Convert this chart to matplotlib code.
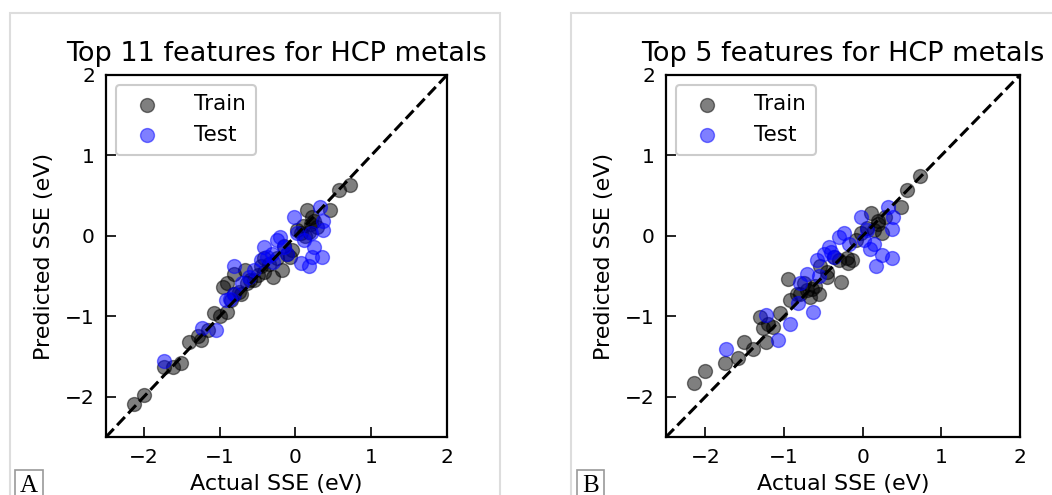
import numpy as np
import matplotlib
matplotlib.use("Agg")
import matplotlib.pyplot as plt
from matplotlib.patches import Rectangle

# Panel A: top 11 features
train_a_x = [-2.13, -2.00, -1.73, -1.62, -1.51, -1.40, -1.29, -1.25, -1.16, -1.07,
             -0.99, -0.90, -0.96, -0.90, -0.81, -0.72, -0.66, -0.55, -0.46, -0.42,
             -0.29, -0.18, -0.11, -0.04, 0.02, 0.07, 0.15, 0.22, 0.29, 0.46,
             0.57, 0.72, -0.07, -0.81, -0.64, -0.42, -0.60, -0.50, -0.35, -0.25,
             -0.15, 0.10, 0.18, 0.20, 0.25, -0.75, -0.85, 0.12]
train_a_y = [-2.09, -1.98, -1.63, -1.63, -1.58, -1.32, -1.25, -1.30, -1.17, -0.96,
             -1.00, -0.94, -0.63, -0.59, -0.72, -0.72, -0.43, -0.55, -0.38, -0.28,
             -0.51, -0.43, -0.22, -0.18, 0.07, 0.03, 0.32, 0.24, 0.11, 0.32,
             0.57, 0.63, -0.26, -0.47, -0.59, -0.45, -0.55, -0.48, -0.35, -0.28,
             -0.12, 0.12, 0.05, 0.15, 0.18, -0.70, -0.80, 0.00]
test_a_x = [-1.73, -1.23, -1.05, -0.92, -0.86, -0.81, -0.81, -0.70, -0.61, -0.55,
            -0.42, -0.37, -0.31, -0.24, -0.20, -0.15, -0.11, -0.02, 0.02, 0.11,
            0.20, 0.18, 0.24, 0.22, 0.35, 0.33, 0.37, 0.37, 0.07, -0.45, -0.30]
test_a_y = [-1.56, -1.15, -1.17, -0.80, -0.78, -0.72, -0.38, -0.59, -0.51, -0.43,
            -0.14, -0.26, -0.22, -0.05, -0.01, -0.14, -0.22, 0.24, 0.03, -0.05,
            0.03, -0.38, -0.14, -0.26, -0.26, 0.36, 0.19, 0.07, -0.34, -0.30, -0.32]

# Panel B: top 5 features
train_b_x = [-2.15, -2.01, -1.75, -1.59, -1.51, -1.40, -1.31, -1.27, -1.23, -1.14,
             -1.05, -0.95, -0.92, -0.84, -0.71, -0.67, -0.56, -0.54, -0.45, -0.28,
             -0.19, -0.13, -0.09, -0.02, 0.11, 0.19, 0.28, 0.49, 0.56, 0.73,
             0.24, 0.15, -0.37, -0.75, -0.60, -0.45, -0.30, -0.20, 0.05, 0.20,
             -1.20, -0.80, -0.65]
train_b_y = [-1.83, -1.68, -1.58, -1.52, -1.32, -1.40, -1.01, -1.15, -1.32, -1.13,
             -0.96, -0.53, -0.80, -0.72, -0.67, -0.76, -0.72, -0.38, -0.51, -0.57,
             -0.34, -0.30, -0.05, 0.03, 0.28, 0.19, 0.24, 0.36, 0.57, 0.75,
             0.03, 0.07, -0.26, -0.59, -0.62, -0.45, -0.30, -0.28, 0.10, 0.15,
             -1.10, -0.72, -0.66]
test_b_x = [-1.74, -1.23, -1.08, -0.92, -0.82, -0.80, -0.71, -0.63, -0.58, -0.49,
            -0.43, -0.37, -0.30, -0.24, -0.17, -0.02, 0.02, 0.09, 0.15, 0.17,
            0.24, 0.37, 0.32, 0.39, 0.37, 0.06, -0.55, -0.40]
test_b_y = [-1.40, -0.98, -1.30, -1.09, -0.84, -0.59, -0.47, -0.94, -0.30, -0.22,
            -0.14, -0.26, -0.01, 0.03, -0.10, 0.24, -0.05, -0.16, -0.10, -0.38,
            -0.24, -0.28, 0.36, 0.24, 0.09, 0.07, -0.50, -0.20]

titles = ["Top 11 features for HCP metals", "Top 5 features for HCP metals"]
panel_tags = ["A", "B"]
lims = (-2.5, 2)
ticks = [-2, -1, 0, 1, 2]
tick_labels = ["\u22122", "\u22121", "0", "1", "2"]

W, H = 1052, 495
fig = plt.figure(figsize=(W / 100, H / 100), dpi=100)

# light gray frames around each panel
for x0, w in [(10, 490), (571, 500)]:
    fig.patches.append(Rectangle((x0 / W, -0.1), w / W, 1.1 - 13 / H, transform=fig.transFigure,
                                 fill=False, edgecolor="#dddddd", lw=1.5))

axes_pos = [[106 / W, 58 / H, 341 / W, 362 / H],
            [666 / W, 58 / H, 354 / W, 362 / H]]
data = [(train_a_x, train_a_y, test_a_x, test_a_y),
        (train_b_x, train_b_y, test_b_x, test_b_y)]
tag_x = [20, 582]

for i in range(2):
    ax = fig.add_axes(axes_pos[i])
    trx, tr_y, tex, tey = data[i]
    ax.scatter(trx, tr_y, s=100, c="k", alpha=0.5, edgecolors="k", linewidths=1, label="Train", zorder=2)
    ax.scatter(tex, tey, s=100, c="b", alpha=0.5, edgecolors="b", linewidths=1, label="Test", zorder=3)
    ax.plot(lims, lims, "k--", lw=2.2, zorder=4)
    ax.set_xlim(lims)
    ax.set_ylim(lims)
    ax.set_xticks(ticks)
    ax.set_yticks(ticks)
    ax.set_xticklabels(tick_labels)
    ax.set_yticklabels(tick_labels)
    ax.tick_params(direction="in", length=7, width=1.2, labelsize=14.5, pad=8)
    for sp in ax.spines.values():
        sp.set_linewidth(1.6)
    ax.set_title(titles[i], fontsize=19.5, pad=10)
    ax.set_xlabel("Actual SSE (eV)", fontsize=16, labelpad=5)
    ax.set_ylabel("Predicted SSE (eV)", fontsize=16, labelpad=8)
    leg = ax.legend(loc="upper left", fontsize=15.5, handletextpad=1.2, scatterpoints=1,
                    borderpad=0.45, fancybox=True, framealpha=1, borderaxespad=0.45)
    leg.get_frame().set_edgecolor("#cccccc")
    leg.get_frame().set_linewidth(1.5)
    fig.text(tag_x[i] / W, 3 / H, panel_tags[i], fontsize=18, family="Liberation Serif",
             ha="left", va="baseline",
             bbox=dict(boxstyle="square,pad=0.2", fc="white", ec="#999999", lw=1.2))

fig.savefig("out.png", dpi=100)
